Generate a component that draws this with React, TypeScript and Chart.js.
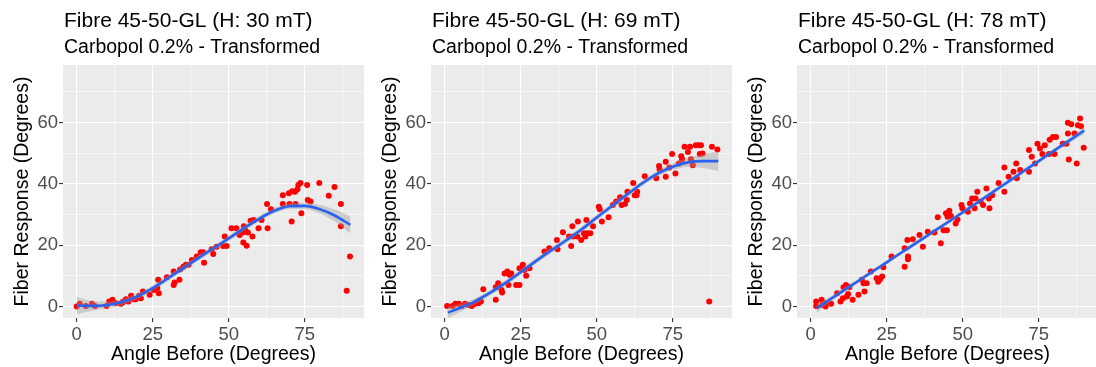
import React, { useEffect, useRef } from "react";
import { Chart, registerables } from "chart.js";

Chart.register(...registerables);

const FONT = '"Liberation Sans", Arial, Helvetica, sans-serif';

const panelTitles = ["Fibre 45-50-GL (H: 30 mT)", "Fibre 45-50-GL (H: 69 mT)", "Fibre 45-50-GL (H: 78 mT)"];
const subtitleText = "Carbopol 0.2% - Transformed";
const xAxisTitle = "Angle Before (Degrees)";
const yAxisTitle = "Fiber Response (Degrees)";

const xMajorTicks = [0, 25, 50, 75];
const xGridValues = [0, 12.5, 25, 37.5, 50, 62.5, 75, 87.5];
const yMajorTicks = [0, 20, 40, 60];
const yGridValues = [0, 10, 20, 30, 40, 50, 60, 70];
const xLimits = [-4.5, 94.5];
const yLimits = [-3.75, 78.75];

// Panel 1 (H: 30 mT) observations
const p1X = [0, 1, 3, 5, 6, 9.8, 10.7, 11.8, 12.9, 14.5, 15.3, 16.2, 17, 17.9, 18.8, 20.5, 21.8, 24, 25.4, 26.5, 26.8, 27, 29.7, 31.9, 31.9, 32.2, 33.8, 34, 35.1, 35.9, 36.8, 37.9, 39.5, 40.8, 41.6, 41.9, 44.4, 44.9, 46, 48.2, 48.7, 49.3, 50.9, 52.5, 53.6, 54.7, 55, 55.4, 54.8, 55.9, 56.3, 57.2, 57.8, 58.2, 59.8, 60.8, 62.6, 62.8, 63.9, 67.8, 67.8, 69.8, 70, 70.7, 70.9, 71.8, 72, 72.6, 72.9, 73.6, 73.9, 75.8, 76, 76.9, 79.8, 82.9, 84.8, 86.9, 86.9, 88.8, 89.9, 19.4, 21.1, 15.1];
const p1Y = [0, 0.9, 0.2, 0.9, 0.2, 0.2, 1.6, 2.2, 1.1, 0.9, 1.6, 2.4, 1.6, 3.5, 2.4, 3.5, 4.9, 3.8, 5.4, 6, 8.7, 4.3, 9.5, 11.4, 7, 7.8, 8.7, 12.1, 13, 13.6, 13.6, 15.2, 16.3, 17.7, 17.7, 14.3, 18.7, 17.1, 19.5, 19.7, 22.8, 19.7, 25.5, 25.5, 23.3, 24.1, 26.2, 24.9, 20.9, 19.8, 24.1, 28, 22.8, 28.2, 25.5, 28.2, 33.4, 25.5, 31.7, 36.3, 33.4, 36.9, 33.4, 27.7, 37.6, 37.4, 33.4, 38.2, 39.6, 40.3, 30.4, 39.6, 34.7, 34.2, 40.3, 36.1, 39, 33.4, 26.2, 5.1, 16.3, 2.4, 2.7, 1.3];

// Panel 2 (H: 69 mT) observations
const p2X = [0.8, 2.6, 3.5, 4.6, 5.6, 6.7, 7.8, 8.9, 10, 11.1, 11.9, 12.7, 16.8, 16.8, 17.6, 18.7, 18.9, 19.7, 20.6, 21, 21.4, 21.9, 23.5, 24.6, 24.6, 25.7, 26.2, 26.8, 27.9, 32.8, 34.4, 36.9, 37.1, 38.9, 40.9, 41.6, 42, 42.3, 43.6, 43.8, 44.9, 45.8, 46.3, 46.6, 46.9, 47.9, 48.8, 50.7, 51, 51.7, 53.9, 55.3, 56.4, 57.7, 58.2, 59.3, 59.9, 60.1, 62, 62.5, 63.1, 63.3, 65.8, 69.6, 70.5, 70.7, 72.7, 72.7, 73.9, 74.8, 75.9, 77, 77.8, 78.1, 78.9, 80, 80.7, 81, 81.6, 82.6, 83.5, 83.9, 84.3, 84.8, 87, 87.9, 89.7];
const p2Y = [0.2, 0.2, 0.9, 0.9, 0.2, 0.9, 0.5, 0.2, 0.9, 1.1, 1.6, 5.6, 2.2, 6.3, 7.6, 5.4, 4.6, 10.8, 11.4, 7, 10.3, 10.8, 7, 7, 12.5, 13.6, 11.9, 10, 12.5, 17.9, 19, 21.7, 18.7, 24.2, 22.8, 19.7, 26.2, 22.8, 22.8, 27.7, 21.7, 23.9, 22.8, 28.2, 23.9, 23.9, 26.2, 32.5, 31.7, 27.7, 29.1, 33.1, 34.2, 35.6, 33.1, 33.4, 34.7, 37.4, 40.3, 36.3, 36.3, 37.4, 42.5, 41.8, 45.8, 44.7, 47.2, 42.3, 45.3, 49.7, 43.4, 46.6, 49, 48, 52.1, 50.4, 52.1, 48, 46.1, 52.6, 52.6, 49.7, 52.6, 49.9, 1.6, 52.1, 51.2];

// Panel 3 (H: 78 mT) observations
const p3X = [1.8, 1.8, 3.6, 3.8, 4.9, 4.9, 6.7, 8.7, 9.8, 10.6, 10.8, 11.6, 11.9, 12.3, 12.7, 13.8, 15.7, 16.8, 17.4, 17.7, 18.4, 19.8, 21.7, 22.2, 22.8, 23.5, 23.9, 26.6, 30.9, 30.9, 31.8, 32, 32, 33.6, 35.8, 36.9, 38.5, 40.7, 41.8, 42.8, 43.7, 44.8, 44.5, 45, 45.6, 46.1, 47.7, 48.3, 49.6, 49.9, 51.7, 52.4, 53.1, 53.9, 54.2, 54.8, 55.9, 56.7, 57.8, 58.6, 58.8, 59.7, 61.8, 63.7, 63.7, 65.1, 66.7, 67.6, 67.8, 68.9, 71.8, 71.8, 72.7, 73.8, 74.6, 75.4, 76.2, 77, 78.4, 78.6, 79.7, 80.2, 80.7, 82.9, 84.1, 84.6, 84.6, 84.9, 85.7, 86.8, 87.5, 87.9, 88.6, 88.9, 89.8];
const p3Y = [1.6, 0.2, 2.2, 0.5, 1.1, 0, 0.9, 4.3, 1.6, 2.7, 6.3, 7, 3.3, 4.1, 6.3, 2.2, 3.8, 8.7, 7.6, 4.9, 7.6, 11.4, 9.2, 8.1, 8.9, 9.8, 12.8, 16.3, 13, 19, 21.7, 16.3, 15.4, 21.9, 23.3, 19.5, 24.4, 24.1, 29.1, 20.6, 24.9, 24.9, 30.4, 29.3, 31.2, 29.5, 27.1, 28.4, 33.1, 32, 30.9, 33.6, 35.2, 32, 35.2, 37.4, 34.2, 33.1, 38.5, 35.2, 32, 36.3, 40.3, 45.3, 37.4, 42.3, 43.9, 46.6, 41.8, 44.5, 51, 43.9, 48.8, 46.6, 53.1, 51.5, 49.7, 52.6, 49.7, 54.4, 55.3, 49.7, 55.3, 53.1, 53.1, 56.4, 59.9, 47.9, 59.4, 56.4, 46.6, 59.1, 61.3, 58.8, 51.8];

// Loess fits and confidence half-widths
const s1X = [0, 5, 10, 15, 20, 25, 30, 35, 40, 45, 50, 55, 60, 65, 70, 75, 80, 85, 90];
const s1Y = [0.3, 0.2, 0.5, 1.5, 3.3, 6.0, 9.2, 12.5, 15.8, 19.0, 22.2, 25.5, 28.6, 31.2, 32.7, 32.8, 31.7, 29.6, 26.6];
const s1Se = [2.8, 1.6, 1.1, 0.9, 0.9, 0.9, 0.9, 0.9, 0.9, 0.9, 0.9, 0.9, 0.9, 0.9, 0.9, 1.0, 1.4, 2.0, 2.8];

const s2X = [1, 5, 10, 15, 20, 25, 30, 35, 40, 45, 50, 55, 60, 65, 70, 75, 80, 85, 90];
const s2Y = [-2.0, -0.5, 1.7, 4.5, 7.7, 11.2, 14.8, 18.3, 21.6, 25.1, 29.0, 32.8, 36.5, 40.2, 43.3, 45.6, 47.0, 47.4, 47.4];
const s2Se = [1.9, 1.3, 1.0, 0.9, 0.9, 0.9, 0.9, 0.9, 0.9, 0.9, 0.9, 0.9, 0.9, 0.9, 1.0, 1.1, 1.5, 2.2, 3.2];

const s3X = [2, 5, 10, 15, 20, 25, 30, 35, 40, 45, 50, 55, 60, 65, 70, 75, 80, 85, 90];
const s3Y = [-0.6, 1.4, 4.7, 7.9, 11.2, 14.4, 17.7, 20.9, 24.2, 27.4, 30.7, 34.0, 37.4, 40.7, 44.1, 47.4, 50.8, 54.1, 57.4];
const s3Se = [1.5, 1.0, 0.8, 0.7, 0.7, 0.7, 0.7, 0.7, 0.7, 0.7, 0.7, 0.7, 0.7, 0.7, 0.7, 0.7, 0.7, 0.8, 1.2];

const panels = [
  { title: panelTitles[0], px: p1X, py: p1Y, sx: s1X, sy: s1Y, se: s1Se },
  { title: panelTitles[1], px: p2X, py: p2Y, sx: s2X, sy: s2Y, se: s2Se },
  { title: panelTitles[2], px: p3X, py: p3Y, sx: s3X, sy: s3Y, se: s3Se },
];

const CANVAS_W = 368;
const CANVAS_H = 367;
const panelLefts = [0, 368, 734];

const decorPlugin = {
  id: "panelDecor",
  beforeDraw(chart: any) {
    const { ctx, chartArea } = chart;
    ctx.save();
    ctx.fillStyle = "#EBEBEB";
    ctx.fillRect(chartArea.left, chartArea.top, chartArea.right - chartArea.left, chartArea.bottom - chartArea.top);
    ctx.restore();
  },
  afterDraw(chart: any, _args: any, opts: any) {
    const { ctx, chartArea } = chart;
    ctx.save();
    ctx.fillStyle = "#000000";
    ctx.textAlign = "left";
    ctx.textBaseline = "alphabetic";
    ctx.font = `21px ${FONT}`;
    ctx.fillText(opts.title, chartArea.left + 1, 27);
    ctx.font = `19.5px ${FONT}`;
    ctx.fillText(opts.subtitle, chartArea.left + 1, 53);
    ctx.textAlign = "center";
    ctx.fillText(opts.xTitle, (chartArea.left + chartArea.right) / 2, 360);
    ctx.translate(27.5, (chartArea.top + chartArea.bottom) / 2);
    ctx.rotate(-Math.PI / 2);
    ctx.fillText(opts.yTitle, 0, 0);
    ctx.restore();
  },
};

function Panel({ idx }: { idx: number }) {
  const ref = useRef<HTMLCanvasElement | null>(null);
  useEffect(() => {
    const p = panels[idx];
    const points = p.px.map((x, i) => ({ x, y: p.py[i] }));
    const fit = p.sx.map((x, i) => ({ x, y: p.sy[i] }));
    const upper = p.sx.map((x, i) => ({ x, y: p.sy[i] + p.se[i] }));
    const lower = p.sx.map((x, i) => ({ x, y: p.sy[i] - p.se[i] }));
    const chart = new Chart(ref.current as HTMLCanvasElement, {
      type: "scatter",
      data: {
        datasets: [
          {
            type: "line",
            data: fit,
            borderColor: "#2A62F0",
            borderWidth: 2.6,
            pointRadius: 0,
            fill: false,
            cubicInterpolationMode: "monotone",
            order: 0,
          } as any,
          {
            type: "line",
            data: upper,
            borderWidth: 0,
            borderColor: "rgba(0,0,0,0)",
            pointRadius: 0,
            backgroundColor: "rgba(153,153,153,0.4)",
            fill: "+1",
            cubicInterpolationMode: "monotone",
            order: 1,
          } as any,
          {
            type: "line",
            data: lower,
            borderWidth: 0,
            borderColor: "rgba(0,0,0,0)",
            pointRadius: 0,
            fill: false,
            cubicInterpolationMode: "monotone",
            order: 2,
          } as any,
          {
            type: "scatter",
            data: points,
            backgroundColor: "#FF0000",
            borderWidth: 0,
            pointRadius: 3,
            order: 3,
          } as any,
        ],
      },
      options: {
        animation: false,
        responsive: false,
        events: [],
        layout: { padding: { top: 65, left: 0, right: 0, bottom: 0 } },
        plugins: {
          legend: { display: false },
          tooltip: { enabled: false },
          title: { display: false },
          panelDecor: { title: p.title, subtitle: subtitleText, xTitle: xAxisTitle, yTitle: yAxisTitle },
        } as any,
        scales: {
          x: {
            type: "linear",
            min: xLimits[0],
            max: xLimits[1],
            afterBuildTicks: (s: any) => {
              s.ticks = xGridValues.map((v) => ({ value: v }));
            },
            afterFit: (s: any) => {
              s.height = 49;
            },
            ticks: {
              autoSkip: false,
              maxRotation: 0,
              padding: 2,
              color: "#4D4D4D",
              font: { size: 18.5, family: FONT },
              callback: (v: any) => (xMajorTicks.includes(Number(v)) ? String(v) : ""),
            },
            grid: {
              color: "#FFFFFF",
              lineWidth: (c: any) => (xMajorTicks.includes(c.tick?.value) ? 1.1 : 0.55),
              tickColor: (c: any) => (xMajorTicks.includes(c.tick?.value) ? "#333333" : "rgba(0,0,0,0)"),
              tickWidth: 1.1,
              tickLength: 4,
              drawTicks: true,
            },
            border: { display: false },
          },
          y: {
            type: "linear",
            min: yLimits[0],
            max: yLimits[1],
            afterBuildTicks: (s: any) => {
              s.ticks = yGridValues.map((v) => ({ value: v }));
            },
            afterFit: (s: any) => {
              s.width = 63;
            },
            ticks: {
              autoSkip: false,
              padding: 1,
              color: "#4D4D4D",
              font: { size: 18.5, family: FONT },
              callback: (v: any) => (yMajorTicks.includes(Number(v)) ? String(v) : ""),
            },
            grid: {
              color: "#FFFFFF",
              lineWidth: (c: any) => (yMajorTicks.includes(c.tick?.value) ? 1.1 : 0.55),
              tickColor: (c: any) => (yMajorTicks.includes(c.tick?.value) ? "#333333" : "rgba(0,0,0,0)"),
              tickWidth: 1.1,
              tickLength: 4,
              drawTicks: true,
            },
            border: { display: false },
          },
        },
      },
      plugins: [decorPlugin],
    });
    return () => chart.destroy();
  }, [idx]);
  return (
    <canvas
      ref={ref}
      width={CANVAS_W}
      height={CANVAS_H}
      style={{ position: "absolute", left: panelLefts[idx], top: 0, width: CANVAS_W, height: CANVAS_H }}
    />
  );
}

export default function App() {
  return (
    <div
      style={{
        position: "absolute",
        left: 0,
        top: 0,
        width: 1096,
        height: 367,
        overflow: "hidden",
        background: "#FFFFFF",
      }}
    >
      {[0, 1, 2].map((i) => (
        <Panel key={i} idx={i} />
      ))}
    </div>
  );
}
